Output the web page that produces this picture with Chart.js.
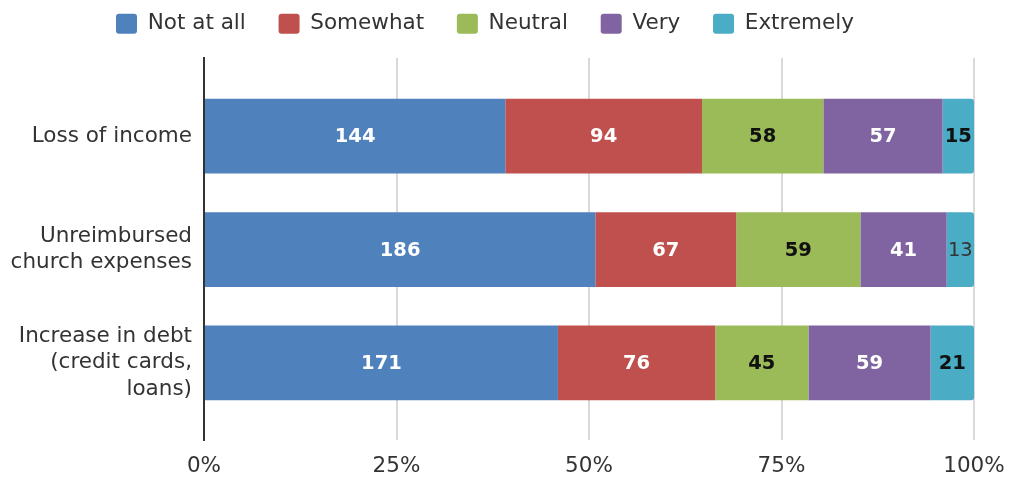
<!DOCTYPE html>
<html>
<head>
<meta charset="utf-8">
<script src="https://cdn.jsdelivr.net/npm/chart.js@4/dist/chart.umd.min.js"></script>
<style>
  html, body { margin: 0; padding: 0; background: #fff; }
  #wrap { width: 1010px; height: 478px; }
</style>
</head>
<body>
<div id="wrap"><canvas id="impactChart"></canvas></div>
<script>
const categories = [
  'Loss of income',
  ['Unreimbursed', 'church expenses'],
  ['Increase in debt', '(credit cards,', 'loans)']
];
const seriesNames = ['Not at all', 'Somewhat', 'Neutral', 'Very', 'Extremely'];
const notAtAll = [144, 186, 171];
const somewhat = [94, 67, 76];
const neutral = [58, 59, 45];
const very = [57, 41, 59];
const extremely = [15, 13, 21];
const xTicks = [0, 25, 50, 75, 100];

const counts = [notAtAll, somewhat, neutral, very, extremely];
const colors = ['#4f81bd', '#c0504d', '#9bbb59', '#8064a2', '#4bacc6'];
const labelColors = ['#fff', '#fff', '#111', '#fff', '#111'];
const fontFamily = '"DejaVu Sans", Verdana, sans-serif';
const textColor = '#333';
const fontSize = 21.5;
const legendGap = 32.75;

// row totals, so every segment becomes a share of 100%
const totals = categories.map((_, i) => counts.reduce((s, arr) => s + arr[i], 0));

const datasets = seriesNames.map((name, k) => ({
  label: name,
  counts: counts[k],
  labelColor: labelColors[k],
  data: counts[k].map((v, i) => ({ x: v / totals[i] * 100, y: i })),
  backgroundColor: colors[k],
  borderRadius: 3,
  borderSkipped: 'start',
  categoryPercentage: 1,
  barPercentage: 0.66
}));

// count labels centred in each segment; narrow segments get a plain dark label
const segmentLabels = {
  id: 'segmentLabels',
  afterDatasetsDraw(chart) {
    const ctx = chart.ctx;
    ctx.save();
    ctx.textAlign = 'center';
    ctx.textBaseline = 'middle';
    chart.data.datasets.forEach((ds, k) => {
      chart.getDatasetMeta(k).data.forEach((bar, i) => {
        const { x, y, base } = bar.getProps(['x', 'y', 'base'], true);
        const text = String(ds.counts[i]);
        ctx.font = 'bold 19.5px ' + fontFamily;
        ctx.fillStyle = ds.labelColor;
        if (ctx.measureText(text).width > Math.abs(x - base) - 2) {
          ctx.font = '19.5px ' + fontFamily;
          ctx.fillStyle = textColor;
        }
        ctx.fillText(text, (x + base) / 2, y + 1);
      });
    });
    ctx.restore();
  }
};

// legend keeps wide gaps between items without pushing the plot down
const legendHeight = {
  id: 'legendHeight',
  beforeInit(chart) {
    const fit = chart.legend.fit;
    chart.legend.fit = function () {
      fit.call(this);
      this.height = 58 - (13 - legendGap);
    };
  }
};

new Chart(document.getElementById('impactChart'), {
  type: 'bar',
  data: { datasets },
  plugins: [segmentLabels, legendHeight],
  options: {
    indexAxis: 'y',
    responsive: true,
    maintainAspectRatio: false,
    animation: false,
    layout: { padding: { top: 13 - legendGap, right: 0, left: -40, bottom: 0 } },
    plugins: {
      legend: {
        position: 'top',
        labels: {
          boxWidth: 21,
          boxHeight: 20,
          useBorderRadius: true,
          borderRadius: 3,
          padding: legendGap,
          color: textColor,
          font: { family: fontFamily, size: fontSize }
        }
      },
      tooltip: { enabled: false }
    },
    scales: {
      x: {
        stacked: true,
        min: 0,
        max: 100,
        afterBuildTicks: axis => { axis.ticks = xTicks.map(v => ({ value: v })); },
        afterFit: axis => {
          axis.height = 38;
          axis.paddingRight = 36;
        },
        grid: { color: '#d9d9d9', lineWidth: 2, drawTicks: false },
        border: { display: false },
        ticks: {
          callback: v => v + '%',
          color: textColor,
          font: { family: fontFamily, size: fontSize },
          padding: 14,
          maxRotation: 0
        }
      },
      y: {
        type: 'linear',
        stacked: true,
        reverse: true,
        offset: false,
        min: -0.69,
        max: 2.68,
        afterBuildTicks: axis => { axis.ticks = categories.map((_, i) => ({ value: i })); },
        afterFit: axis => { axis.width = 244; },
        grid: { display: false, drawTicks: false },
        border: { display: true, color: '#333', width: 2 },
        ticks: {
          callback: v => categories[v],
          color: textColor,
          font: { family: fontFamily, size: fontSize, lineHeight: 1.21 },
          padding: 12,
          autoSkip: false
        }
      }
    }
  }
});
</script>
</body>
</html>
